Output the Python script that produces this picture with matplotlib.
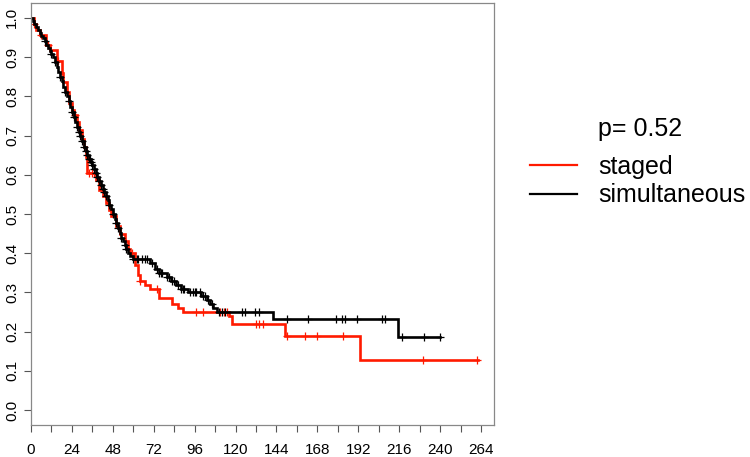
import numpy as np
import matplotlib
matplotlib.use("Agg")
import matplotlib.pyplot as plt
from matplotlib.lines import Line2D

plt.rcParams["font.family"] = ["Liberation Sans", "DejaVu Sans"]

# Kaplan-Meier steps (months, survival)
staged_t = [0, 1.5, 3, 5, 9, 11, 15, 18, 19, 21, 22, 24, 25, 27, 28, 30, 31, 32, 33,
            38, 40, 42, 44, 46, 47, 50, 52, 55, 57, 58, 61, 63, 64, 67, 70, 75, 83,
            86, 89, 116, 118, 149, 193, 262]
staged_s = [1.0, 0.985, 0.97, 0.957, 0.93, 0.918, 0.89, 0.86, 0.837, 0.81, 0.783,
            0.765, 0.753, 0.735, 0.714, 0.69, 0.671, 0.645, 0.605, 0.587, 0.56, 0.545,
            0.528, 0.51, 0.495, 0.47, 0.45, 0.43, 0.41, 0.40, 0.37, 0.345, 0.33, 0.32,
            0.31, 0.285, 0.27, 0.26, 0.25, 0.24, 0.22, 0.19, 0.128, 0.128]
staged_cens = [2, 6, 10, 16, 26, 34, 35.5, 37, 59, 64, 74, 97, 101, 111, 113, 115,
               132, 134, 136, 150, 160.7, 167.6, 183, 230, 261.6]

simul_t = [0, 1, 2, 3, 4, 5, 6, 7, 8, 9, 10, 11, 12, 13, 14, 15, 16, 17, 18, 19, 20,
           21, 22, 23, 24, 25, 26, 27, 28, 29, 30, 31, 32, 33, 34, 35, 36, 37, 38, 39,
           40, 41, 42, 43, 44, 45, 46, 47, 48, 49, 50, 51, 52, 53, 54, 55, 56, 57, 58,
           60, 70, 73, 75, 80, 82, 85, 88, 92, 100, 103, 105, 107, 109, 142, 215, 240]
simul_s = [1.0, 0.993, 0.985, 0.978, 0.97, 0.962, 0.955, 0.948, 0.94, 0.932, 0.924,
           0.916, 0.908, 0.9, 0.888, 0.875, 0.862, 0.85, 0.838, 0.825, 0.812, 0.8,
           0.787, 0.774, 0.761, 0.748, 0.735, 0.722, 0.71, 0.698, 0.685, 0.672, 0.66,
           0.65, 0.64, 0.632, 0.624, 0.615, 0.605, 0.595, 0.585, 0.575, 0.565, 0.555,
           0.545, 0.535, 0.523, 0.512, 0.5, 0.488, 0.476, 0.464, 0.452, 0.44, 0.43,
           0.42, 0.41, 0.4, 0.392, 0.385, 0.375, 0.36, 0.35, 0.34, 0.33, 0.32, 0.31,
           0.30, 0.29, 0.28, 0.27, 0.26, 0.25, 0.232, 0.186, 0.186]
simul_cens = [8, 12, 14, 17, 20, 22, 24, 25, 27, 28, 29, 30, 31, 32, 33, 34, 34.5, 35,
              36, 37, 38, 39, 40, 41, 42, 43, 44, 46, 48, 50, 51, 53, 55, 56, 60, 62,
              63, 65, 67, 68, 71, 74, 75, 76, 77, 80, 81, 83, 84, 86, 88, 89, 90, 93,
              95, 96, 97, 99, 101, 102, 104, 106, 110, 112, 114, 124, 125.5, 131.4, 134,
              150, 162.5, 179, 182.4, 184.2, 191, 206, 207.6, 217.6, 230.5, 240]

x_ticks = np.arange(0, 265, 12)
x_labels = [str(v) if v % 24 == 0 else "" for v in x_ticks]
y_ticks = np.round(np.arange(0, 1.01, 0.1), 1)

p_text = "p= 0.52"
groups = ["staged", "simultaneous"]
colors = ["#ff1a00", "#000000"]


def surv_at(times, surv, t):
    """value of the step curve at t"""
    idx = np.searchsorted(times, t, side="right") - 1
    return np.asarray(surv)[idx]


fig = plt.figure(figsize=(7.5, 4.57), dpi=100)
ax = fig.add_axes([31 / 750, 1 - 425 / 457, 463 / 750, 422 / 457])

curves = [(staged_t, staged_s, staged_cens), (simul_t, simul_s, simul_cens)]
for (t, s, cens), col in zip(curves, colors):
    ax.step(t, s, where="post", color=col, lw=1.9, solid_joinstyle="miter")
    ax.plot(cens, surv_at(t, s, cens), ls="none", marker="+", ms=6, mew=0.9,
            color=col)

ax.set_xlim(0, 271.6)
ax.set_ylim(-0.038, 1.038)
ax.set_xticks(x_ticks)
ax.set_xticklabels(x_labels)
ax.set_yticks(y_ticks)
ax.set_yticklabels([f"{v:.1f}" for v in y_ticks], rotation=90, va="center")
ax.tick_params(direction="out", length=5, width=0.8, color="#555555",
               labelsize=11)
ax.tick_params(axis="x", pad=8)
ax.tick_params(axis="y", pad=3.5)
for sp in ax.spines.values():
    sp.set_color("#888888")
    sp.set_linewidth(0.9)

# legend drawn by hand to sit outside the box
fig.text(598 / 750, 1 - 136 / 457, p_text, fontsize=18, va="baseline")
for i, (lab, col) in enumerate(zip(groups, colors)):
    yy = 1 - (165 + 29 * i) / 457
    fig.add_artist(Line2D([530 / 750, 577 / 750], [yy, yy], color=col, lw=1.6))
    fig.text(598 / 750, 1 - (174 + 27.7 * i) / 457, lab, fontsize=18,
             va="baseline")

fig.savefig("out.png", dpi=100)
